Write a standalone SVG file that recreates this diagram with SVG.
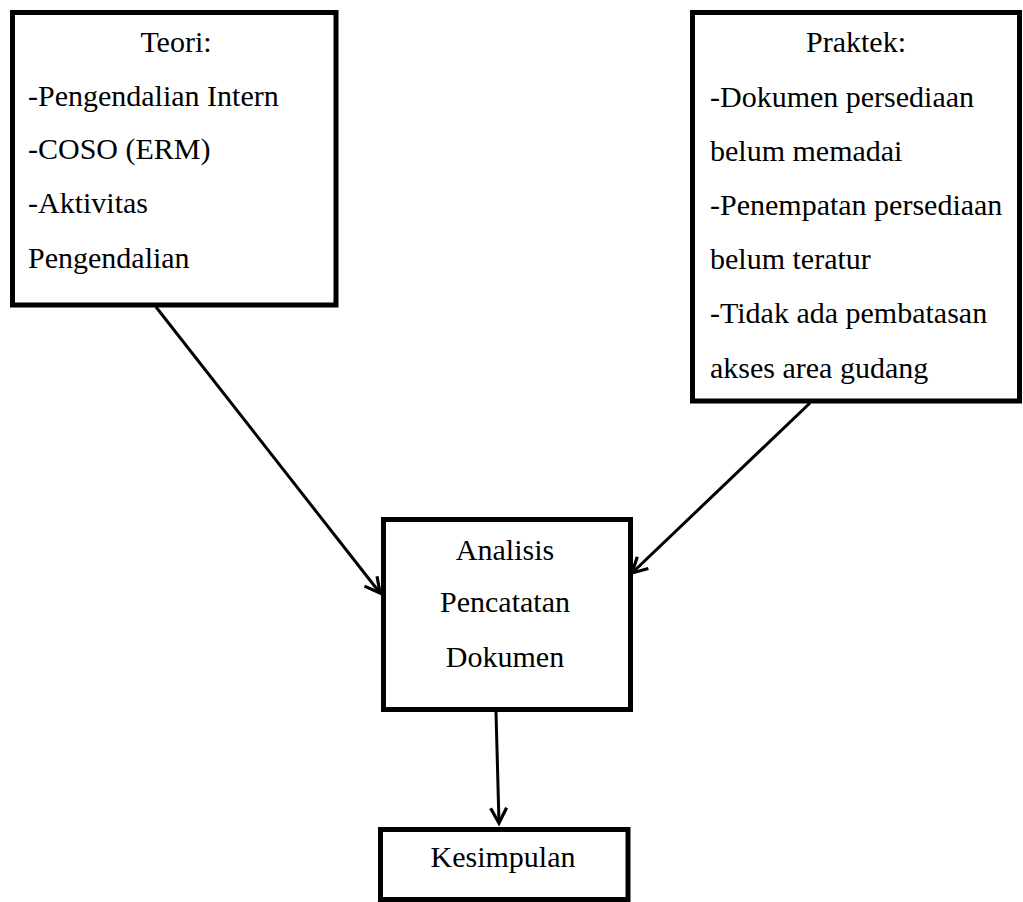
<svg xmlns="http://www.w3.org/2000/svg" width="1023" height="902" viewBox="0 0 1023 902">
<defs>
<style>
.box{fill:#fff;stroke:#000;stroke-width:5}
.t{font-family:"Liberation Serif","Times New Roman",serif;font-size:30px;fill:#000}
.c{text-anchor:middle}
.ln{stroke:#000;stroke-width:3;fill:none}
</style>
<marker id="arr" markerWidth="22" markerHeight="22" refX="17" refY="11" orient="auto" markerUnits="userSpaceOnUse">
<path d="M2,3 L17,11 L2,19" fill="none" stroke="#000" stroke-width="3.2"/>
</marker>
</defs>
<rect width="1023" height="902" fill="#fff"/>
<g id="connectors">
<line class="ln" x1="156" y1="307" x2="380" y2="593" marker-end="url(#arr)"/>
<line class="ln" x1="810" y1="403" x2="632" y2="573" marker-end="url(#arr)"/>
<line class="ln" x1="496" y1="712" x2="499" y2="823" marker-end="url(#arr)"/>
</g>
<g id="teori">
<rect class="box" x="12.5" y="12.5" width="323.5" height="292.5"/>
<text class="t c" x="176" y="52">Teori:</text>
<text class="t" x="28" y="106">-Pengendalian Intern</text>
<text class="t" x="28" y="159">-COSO (ERM)</text>
<text class="t" x="28" y="213">-Aktivitas</text>
<text class="t" x="28" y="268">Pengendalian</text>
</g>
<g id="praktek">
<rect class="box" x="692.5" y="12.5" width="327" height="388.5"/>
<text class="t c" x="856" y="52">Praktek:</text>
<text class="t" x="710" y="107">-Dokumen persediaan</text>
<text class="t" x="710" y="161">belum memadai</text>
<text class="t" x="710" y="215">-Penempatan persediaan</text>
<text class="t" x="710" y="269">belum teratur</text>
<text class="t" x="710" y="323">-Tidak ada pembatasan</text>
<text class="t" x="710" y="378">akses area gudang</text>
</g>
<g id="analisis">
<rect class="box" x="383.5" y="519.5" width="247" height="190"/>
<text class="t c" x="505" y="560">Analisis</text>
<text class="t c" x="505" y="612">Pencatatan</text>
<text class="t c" x="505" y="667">Dokumen</text>
</g>
<g id="kesimpulan">
<rect class="box" x="380.5" y="829.5" width="247.5" height="70"/>
<text class="t c" x="503" y="867">Kesimpulan</text>
</g>
</svg>
